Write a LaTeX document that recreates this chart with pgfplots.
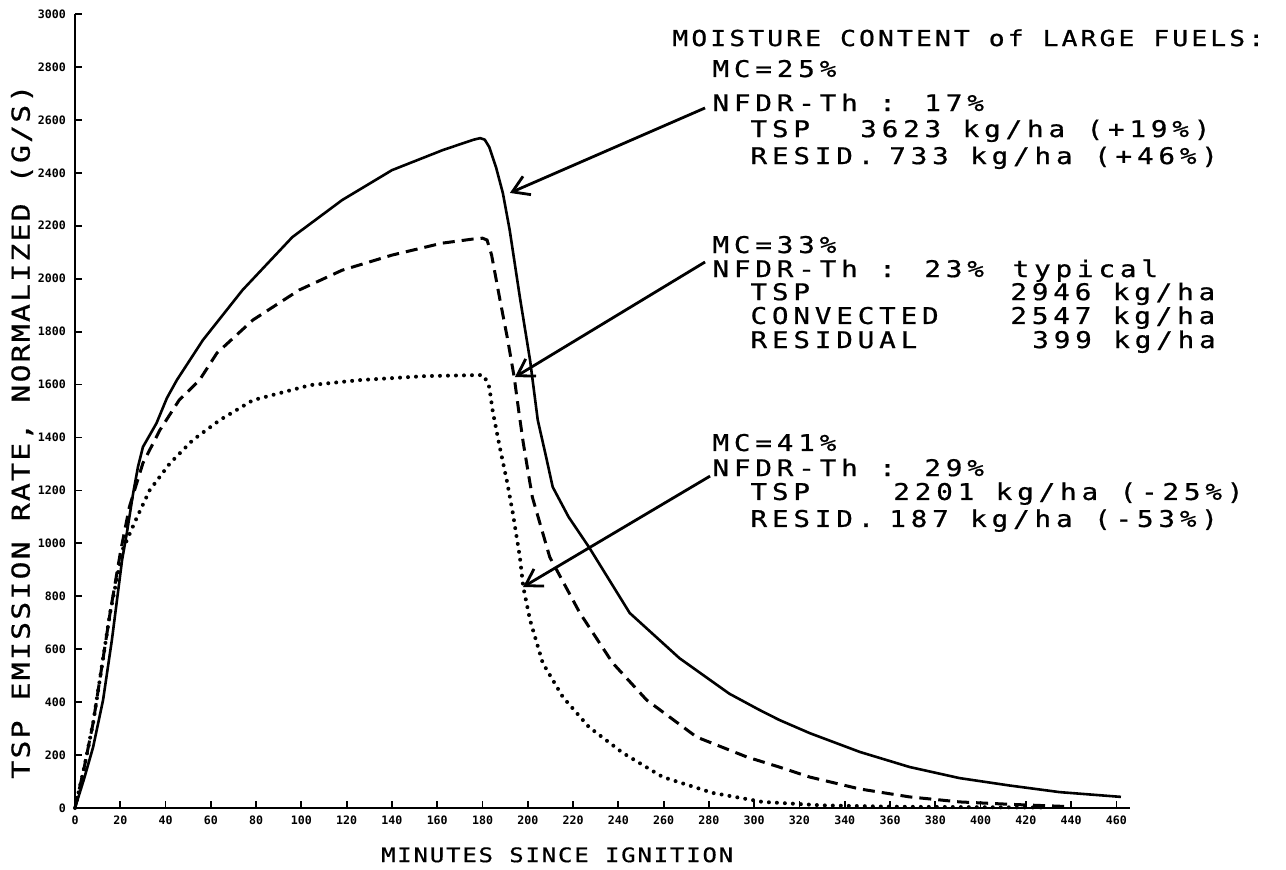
\documentclass[border=0pt]{standalone}
\usepackage{fontspec}
\usepackage{pgfplots}
\pgfplotsset{compat=1.18}
\usetikzlibrary{arrows.meta}
\newfontfamily\fA[FakeStretch=1.2, LetterSpace=21, FakeBold=0.8]{DejaVu Sans Mono}
\newfontfamily\fT[FakeStretch=1.2, LetterSpace=14, FakeBold=0.8]{DejaVu Sans Mono}
\newfontfamily\fY[FakeStretch=1.2, LetterSpace=9, FakeBold=0.6]{DejaVu Sans Mono}
\newfontfamily\fX[FakeStretch=1.2, LetterSpace=9, FakeBold=0.6]{DejaVu Sans Mono}
\newfontfamily\tickfont{DejaVu Sans Mono Bold}
\newcommand{\txt}{\fontsize{11.5}{14}\fA}
\begin{document}
\begin{tikzpicture}
\begin{axis}[
  at={(0,0)}, anchor=south west,
  scale only axis, width=527.5pt, height=397pt,
  xmin=0, xmax=466, ymin=0, ymax=3000,
  axis lines=left, axis line style={-, line width=1pt},
  xtick={0,20,...,460}, ytick={0,200,...,3000},
  tick align=inside, major tick length=3.5pt,
  tick style={line width=0.9pt, black},
  /pgf/number format/assume math mode=true,
  /pgf/number format/1000 sep={},
  ticklabel style={font=\fontsize{5.8}{6}\tickfont},
  yticklabel style={xshift=-1pt},
  xticklabel style={yshift=-0.5pt},
  xlabel={MINUTES SINCE IGNITION},
  xlabel style={font=\fontsize{10}{12}\fX, at={(axis description cs:0.457,-0.059)}, anchor=center},
  ylabel={TSP EMISSION RATE, NORMALIZED (G/S)},
  ylabel style={font=\fontsize{12.4}{14}\fY, at={(axis description cs:-0.0502,0.474)}, anchor=center},
  clip=false,
]
% MC = 25%
\addplot[black, line width=1.3pt, line join=round] coordinates {
(0,0) (4,110) (8,230) (12.4,408) (16.3,635) (20.8,937) (22.9,1039) (25.7,1190)
(27.8,1288) (30,1364) (36,1454) (40.6,1549) (45,1617) (56.5,1768) (74,1957)
(96,2157) (118,2297) (140,2410) (162.5,2486) (176,2525) (179,2531) (181,2525)
(183,2497) (186,2420) (189,2323) (192,2184) (196.5,1930) (201,1692) (204.4,1466)
(208,1330) (211,1213) (218,1100) (227,986) (245,737) (267,566) (289,432) (302,372)
(311,333) (324.5,283) (346.6,212) (368.6,155) (390.7,113) (412.8,85) (434.9,60) (462,42)
};
% MC = 33%
\addplot[black, line width=1.5pt, dash pattern=on 6pt off 3.5pt] coordinates {
(0,0) (4,150) (8,321) (15.5,737) (20,963) (24,1137) (30,1303) (37.5,1428) (46,1541)
(55,1617) (62.7,1719) (78.6,1844) (99,1957) (118,2032) (140,2089) (162,2134)
(176,2150) (180,2153) (182,2146) (184,2090) (187.6,1925) (191,1775) (194,1628)
(196,1500) (198,1380) (202,1175) (209.7,948) (223,737) (237.5,548) (252.5,408)
(274.6,268) (296.7,193) (311,155) (324.5,117) (346.6,72) (368.6,42) (390.7,23)
(412.8,14) (440,5)
};
% MC = 41%
\addplot[black, line width=2pt, line cap=round, dash pattern=on 0pt off 4pt] coordinates {
(0,0) (4,150) (8,321) (15.5,737) (21,975) (27.4,1099) (33,1201) (42,1303) (52,1390)
(64,1466) (78.6,1541) (104,1598) (126,1617) (155,1632) (180,1636) (181,1628)
(183,1590) (184.5,1500) (187.6,1364) (190.7,1239) (193.4,1114) (196.5,948)
(198,835) (201,710) (206.6,548) (215.5,419) (227,306) (242,208) (259.6,117)
(281.7,57) (303.7,23) (330,10) (360,5) (400,3) (430,2)
};
% arrows
\draw[line width=1.4pt, -{Straight Barb[length=8pt,width=10pt,line width=1.4pt]}] (axis cs:278.3,2645) -- (axis cs:192.1,2324);
\draw[line width=1.4pt, -{Straight Barb[length=8pt,width=10pt,line width=1.4pt]}] (axis cs:278.3,2063) -- (axis cs:194.3,1628);
\draw[line width=1.4pt, -{Straight Barb[length=8pt,width=10pt,line width=1.4pt]}] (axis cs:280.5,1254) -- (axis cs:197.9,835);
% texts
\begin{scope}[every node/.style={anchor=base west, inner sep=0pt, font=\txt}]
\node[font=\fontsize{11}{14}\fT] at (axis cs:263.7,2879) {MOISTURE CONTENT of LARGE FUELS:};
\node at (axis cs:281.4,2762) {MC=25\%};
\node at (axis cs:281.4,2633) {NFDR-Th : 17\%};
\node at (axis cs:298.2,2535) {TSP};
\node at (axis cs:346.7,2535) {3623 kg/ha (+19\%)};
\node at (axis cs:298.2,2433) {RESID.};
\node at (axis cs:359.5,2433) {733 kg/ha (+46\%)};
\node at (axis cs:281.4,2097) {MC=33\%};
\node at (axis cs:281.4,2006) {NFDR-Th : 23\%};
\node at (axis cs:414,2006) {typical};
\node at (axis cs:298.2,1919) {TSP};
\node at (axis cs:413,1919) {2946 kg/ha};
\node at (axis cs:298.2,1829) {CONVECTED};
\node at (axis cs:413,1829) {2547 kg/ha};
\node at (axis cs:298.2,1738) {RESIDUAL};
\node at (axis cs:422.7,1738) {399 kg/ha};
\node at (axis cs:281.4,1349) {MC=41\%};
\node at (axis cs:281.4,1254) {NFDR-Th : 29\%};
\node at (axis cs:298.2,1164) {TSP};
\node at (axis cs:361.3,1164) {2201 kg/ha (-25\%)};
\node at (axis cs:298.2,1062) {RESID.};
\node at (axis cs:359.5,1062) {187 kg/ha (-53\%)};
\end{scope}
\end{axis}
\path[use as bounding box] (-37.5pt,-29.5pt) rectangle (605.5pt,404pt);
\end{tikzpicture}
\end{document}
